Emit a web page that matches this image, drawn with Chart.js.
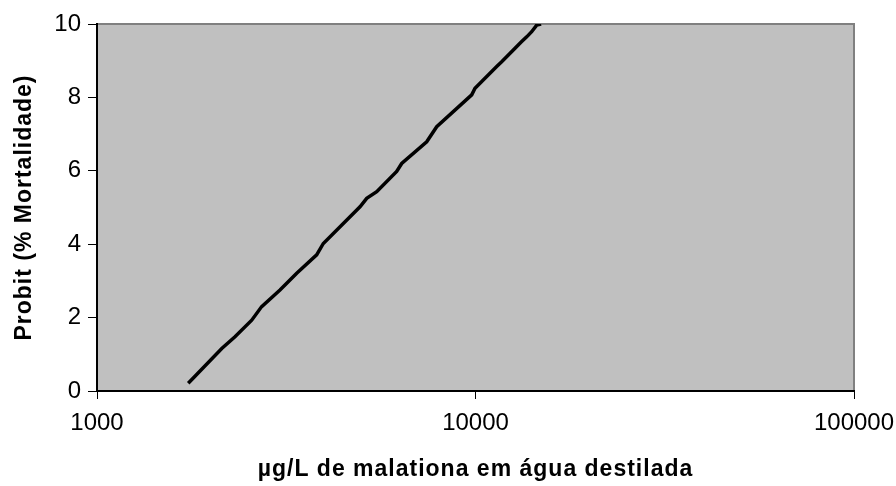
<!DOCTYPE html>
<html>
<head>
<meta charset="utf-8">
<script src="https://cdn.jsdelivr.net/npm/chart.js@4/dist/chart.umd.min.js"></script>
<style>
  html, body { margin: 0; padding: 0; background: #fff; }
  #wrap { width: 896px; height: 486px; }
</style>
</head>
<body>
<div id="wrap"><canvas id="probitChart" width="896" height="486"></canvas></div>
<script>
// Concentration (µg/L)
const concentration = [1742, 2136, 2315, 2563, 2723, 3044, 3370, 3805, 3962, 4953, 5159, 5483,
    6191, 6383, 7431, 7898, 9772, 9970, 11376, 11727, 12720, 13245, 13655, 14075, 14510, 14900];
// Probit values
const probit = [0.21, 1.16, 1.48, 1.93, 2.30, 2.75, 3.21, 3.71, 4.02, 5.02, 5.25, 5.43,
    5.98, 6.20, 6.79, 7.20, 8.07, 8.25, 8.84, 8.97, 9.34, 9.52, 9.65, 9.79, 9.97, 10.0];

const xTicks = [1000, 10000, 100000];
const yTicks = [0, 2, 4, 6, 8, 10];

const xTitle = 'µg/L de malationa em água destilada';
const yTitle = 'Probit (% Mortalidade)';

const fontFamily = '"Liberation Sans", Arial, sans-serif';

// Grey plot area with the light top/right frame
const plotArea = {
    id: 'plotArea',
    beforeDraw(chart) {
        const { ctx, chartArea: a } = chart;
        ctx.save();
        ctx.fillStyle = '#c0c0c0';
        ctx.fillRect(a.left, a.top, a.right - a.left, a.bottom - a.top);
        ctx.strokeStyle = '#808080';
        ctx.lineWidth = 2;
        ctx.beginPath();
        ctx.moveTo(a.left, a.top);
        ctx.lineTo(a.right, a.top);
        ctx.lineTo(a.right, a.bottom);
        ctx.stroke();
        ctx.restore();
    }
};

// Axis titles, drawn with the slight letter spacing of the original
const axisTitles = {
    id: 'axisTitles',
    afterDraw(chart) {
        const { ctx, chartArea: a } = chart;
        ctx.save();
        ctx.fillStyle = '#000';
        ctx.textAlign = 'center';
        ctx.textBaseline = 'alphabetic';
        ctx.font = 'bold 23px ' + fontFamily;
        ctx.letterSpacing = '1px';

        ctx.fillText(xTitle, (a.left + a.right) / 2, 476);

        ctx.translate(31, (a.top + a.bottom) / 2);
        ctx.rotate(-Math.PI / 2);
        ctx.fillText(yTitle, 0, 0);
        ctx.restore();
    }
};

function renderProbitChart() {
    const ctx = document.getElementById('probitChart').getContext('2d');

    new Chart(ctx, {
        type: 'line',
        data: {
            datasets: [{
                data: concentration.map((c, i) => ({ x: c, y: probit[i] })),
                borderColor: '#000',
                borderWidth: 3.5,
                pointRadius: 0,
                tension: 0,
                fill: false
            }]
        },
        options: {
            responsive: false,
            animation: false,
            layout: { padding: { top: 24, right: 42, left: 0, bottom: 0 } },
            plugins: { legend: { display: false }, tooltip: { enabled: false } },
            scales: {
                x: {
                    type: 'logarithmic',
                    min: 1000,
                    max: 100000,
                    afterBuildTicks: axis => { axis.ticks = xTicks.map(v => ({ value: v })); },
                    afterFit: axis => {
                        axis.height = 95;
                        axis.paddingLeft = 0;
                        axis.paddingRight = 0;
                    },
                    ticks: {
                        color: '#000',
                        padding: 10,
                        maxRotation: 0,
                        autoSkip: false,
                        font: { family: fontFamily, size: 24 },
                        callback: v => String(v)
                    },
                    grid: { drawOnChartArea: false, tickLength: 8, color: '#000', tickColor: '#000' },
                    border: { color: '#000', width: 2 }
                },
                y: {
                    min: 0,
                    max: 10,
                    afterBuildTicks: axis => { axis.ticks = yTicks.map(v => ({ value: v })); },
                    afterFit: axis => {
                        axis.width = 97;
                        axis.paddingTop = 0;
                        axis.paddingBottom = 0;
                    },
                    ticks: {
                        color: '#000',
                        padding: 7,
                        font: { family: fontFamily, size: 24 }
                    },
                    grid: { drawOnChartArea: false, tickLength: 9, color: '#000', tickColor: '#000' },
                    border: { color: '#000', width: 2 }
                }
            }
        },
        plugins: [plotArea, axisTitles]
    });
}

document.addEventListener('DOMContentLoaded', renderProbitChart);
</script>
</body>
</html>
